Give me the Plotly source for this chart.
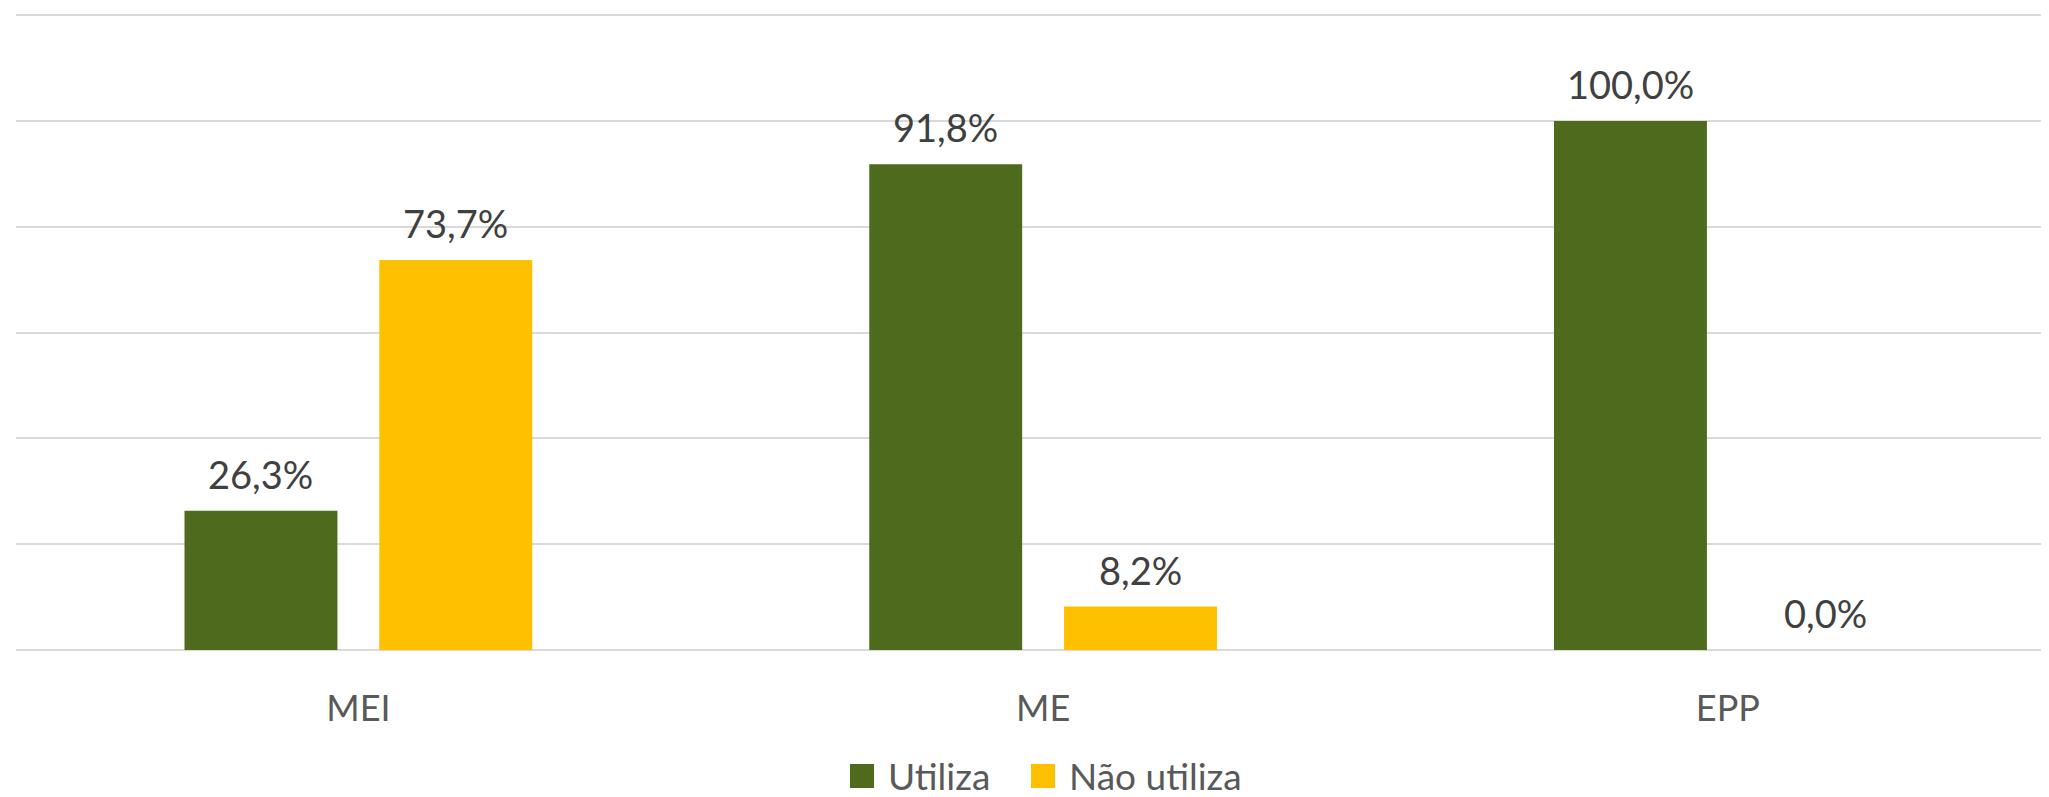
import plotly.graph_objects as go

categories = ["MEI", "ME", "EPP"]
utiliza = [26.3, 91.8, 100.0]
nao_utiliza = [73.7, 8.2, 0.0]
series_names = ["Utiliza", "Não utiliza"]

green = "#4E6A1D"
yellow = "#FFC000"
font_family = "Lato, 'Open Sans', sans-serif"

# the page body has an 8px margin, so the figure is shifted by that much
off = 8
W, H = 2049 - off, 797 - off
# plot area in page pixels (Excel layout, right side cropped)
left, top, bottom = 16, 14, 650
plot_w = 2049 - left
plot_h = bottom - top


def px_x(px):
    return (px - left) / plot_w


def px_y(py):
    return (bottom - py) / plot_h


fig = go.Figure()

fig.add_trace(go.Bar(x=categories, y=utiliza, name=series_names[0],
                     marker_color=green, marker_line_width=0, showlegend=False))
fig.add_trace(go.Bar(x=categories, y=nao_utiliza, name=series_names[1],
                     marker_color=yellow, marker_line_width=0, showlegend=False))

# data labels a bit further above the bars than plotly's outside text
for vals, shift in [(utiliza, -97.5), (nao_utiliza, 97.5)]:
    for cat, v in zip(categories, vals):
        fig.add_annotation(x=cat, y=v, text=f"{v:.1f}%".replace(".", ","),
                           showarrow=False, xshift=shift, yshift=13,
                           yanchor="bottom", borderpad=0,
                           font=dict(color="#404040", size=38, family=font_family))

# legend drawn by hand so the colour squares keep Excel's size
legend_items = [(series_names[0], green, 850, 887), (series_names[1], yellow, 1031, 1068)]
for label, color, sq, tx in legend_items:
    fig.add_shape(type="rect", xref="paper", yref="paper",
                  x0=px_x(sq), x1=px_x(sq + 24), y0=px_y(788), y1=px_y(764),
                  fillcolor=color, line_width=0)
    fig.add_annotation(text=label, xref="paper", yref="paper",
                       x=px_x(tx), y=px_y(775), borderpad=0,
                       xanchor="left", yanchor="middle", showarrow=False,
                       font=dict(color="#595959", size=37, family=font_family))

fig.update_layout(
    width=W, height=H,
    margin=dict(l=left - off, r=0, t=top - off, b=797 - bottom),
    plot_bgcolor="white", paper_bgcolor="white",
    barmode="group", bargap=0.431, bargroupgap=0.215,
    showlegend=False,
    font=dict(family=font_family, color="#595959", size=36),
)

fig.update_xaxes(range=[-0.5, 2.469], showgrid=False, showline=False,
                 ticks="", ticklabelstandoff=34,
                 tickfont=dict(color="#595959", size=36, family=font_family))
fig.update_yaxes(range=[0, 120.2], tickvals=[0, 20, 40, 60, 80, 100, 120],
                 showticklabels=False,
                 gridcolor="#D9D9D9", gridwidth=1.5,
                 zeroline=True, zerolinecolor="#D9D9D9", zerolinewidth=2)

fig.write_html("out.html")
